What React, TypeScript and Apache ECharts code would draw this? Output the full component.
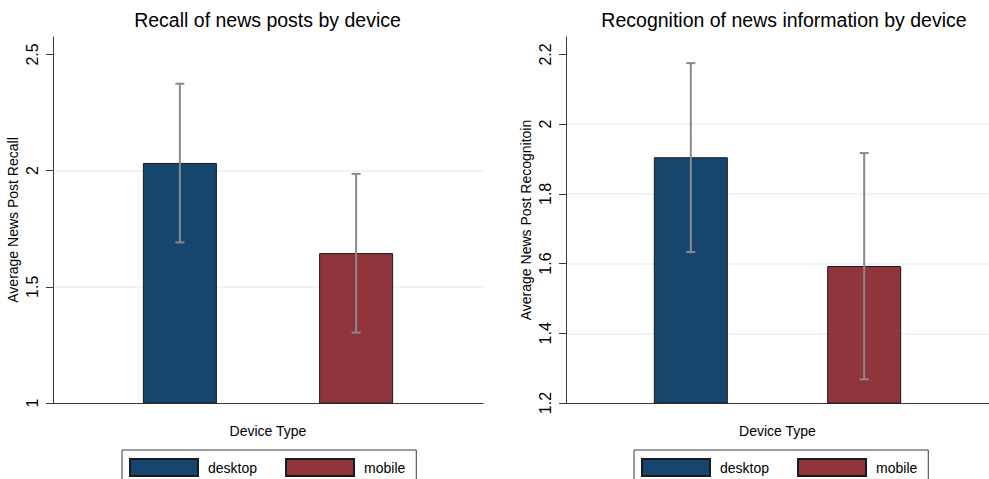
import React, { useEffect, useRef } from "react";
import * as echarts from "echarts";

// ---- data ----
const categories = ["desktop", "mobile"];
const positions = [0, 1];
const recallMean = [2.033, 1.645];
const recallLow = [1.691, 1.303];
const recallHigh = [2.374, 1.986];
const recogMean = [1.905, 1.593];
const recogLow = [1.633, 1.268];
const recogHigh = [2.175, 1.917];
const recallTicks = [1, 1.5, 2, 2.5];
const recogTicks = [1.2, 1.4, 1.6, 1.8, 2, 2.2];
const titles = ["Recall of news posts by device", "Recognition of news information by device"];
const yNames = ["Average News Post Recall", "Average News Post Recognitoin"];
const xName = "Device Type";

const colors = ["#16466d", "#90353b"];
const FONT = "'Liberation Sans', Arial, Helvetica, sans-serif";
const AXIS = "#3a3a3a";

export default function App() {
  const ref = useRef<HTMLDivElement>(null);
  useEffect(() => {
    if (!ref.current) return;
    const chart = echarts.init(ref.current, null, { renderer: "svg" });
    const panels = [
      { mean: recallMean, low: recallLow, high: recallHigh, ticks: recallTicks, min: 1, max: 2.575, interval: 0.5, left: 53, titleX: 267.5, legendX: 122 },
      { mean: recogMean, low: recogLow, high: recogHigh, ticks: recogTicks, min: 1.2, max: 2.25, interval: 0.2, left: 566, titleX: 784, legendX: 634 },
    ];
    const series: any[] = [];
    panels.forEach((p, pi) => {
      categories.forEach((c, i) => {
        series.push({
          type: "bar",
          name: c,
          xAxisIndex: pi,
          yAxisIndex: pi,
          data: [[positions[i], p.mean[i]]],
          barWidth: 74,
          barGap: "-100%",
          clip: true,
          itemStyle: { color: colors[i], borderColor: "#1a1a1a", borderWidth: 1 },
        });
      });
      series.push({
        type: "custom",
        name: "ci" + pi,
        xAxisIndex: pi,
        yAxisIndex: pi,
        z: 5,
        encode: { x: 0, y: [1, 2] },
        data: categories.map((_, i) => [positions[i], p.low[i], p.high[i]]),
        renderItem: (params: any, api: any) => {
          const x = api.value(0);
          const lo = api.coord([x, api.value(1)]);
          const hi = api.coord([x, api.value(2)]);
          const cap = 4.5;
          const style = { stroke: "#8a8a8a", lineWidth: 2 };
          return {
            type: "group",
            children: [
              { type: "line", shape: { x1: lo[0], y1: lo[1], x2: hi[0], y2: hi[1] }, style },
              { type: "line", shape: { x1: hi[0] - cap, y1: hi[1], x2: hi[0] + cap, y2: hi[1] }, style },
              { type: "line", shape: { x1: lo[0] - cap, y1: lo[1], x2: lo[0] + cap, y2: lo[1] }, style },
            ],
          };
        },
      });
    });

    const option: any = {
      animation: false,
      backgroundColor: "#ffffff",
      textStyle: { fontFamily: FONT },
      title: panels.map((p, pi) => ({
        text: titles[pi],
        left: p.titleX,
        top: 10,
        padding: 0,
        textAlign: "center",
        textStyle: { fontSize: 19.5, fontWeight: "normal", color: "#000", fontFamily: FONT },
      })),
      legend: panels.map((p) => ({
        data: categories,
        left: p.legendX,
        top: 450,
        orient: "horizontal",
        itemWidth: 68,
        itemHeight: 17,
        itemGap: 28,
        padding: [8, 11, 8, 7],
        borderColor: AXIS,
        borderWidth: 1,
        icon: "rect",
        selectedMode: false,
        textStyle: { fontSize: 14, color: "#000", fontFamily: FONT, padding: [0, 0, 0, 5] },
      })),
      grid: panels.map((p) => ({ left: p.left, top: 37, width: 430, height: 366 })),
      xAxis: panels.map((p, pi) => ({
        gridIndex: pi,
        type: "value",
        min: -0.72,
        max: 1.72,
        axisLine: { show: true, onZero: false, lineStyle: { color: AXIS, width: 1 } },
        axisTick: { show: false },
        axisLabel: { show: false },
        splitLine: { show: false },
        name: xName,
        nameLocation: "middle",
        nameGap: 21,
        nameTextStyle: { fontSize: 14, color: "#000", fontFamily: FONT },
      })),
      yAxis: panels.map((p, pi) => ({
        gridIndex: pi,
        type: "value",
        position: "left",
        min: p.min,
        max: p.max,
        interval: p.interval,
        axisLine: { show: true, onZero: false, lineStyle: { color: AXIS, width: 1 } },
        axisTick: { show: true, length: 7, customValues: p.ticks, lineStyle: { color: AXIS } },
        axisLabel: { customValues: p.ticks, rotate: 90, fontSize: 16, color: "#000", margin: 13, fontFamily: FONT },
        splitLine: { show: true, showMinLine: false, showMaxLine: false, lineStyle: { color: "#e6f0f2", width: 1.5 } },
        name: yNames[pi],
        nameLocation: "middle",
        nameGap: 33,
        nameTextStyle: { fontSize: 14, color: "#000", fontFamily: FONT },
      })),
      series,
    };
    chart.setOption(option);
    return () => chart.dispose();
  }, []);
  return (
    <div style={{ position: "absolute", left: 0, top: 0, width: 989, height: 479, background: "#fff" }}>
      <div ref={ref} style={{ width: 989, height: 479 }} />
    </div>
  );
}
